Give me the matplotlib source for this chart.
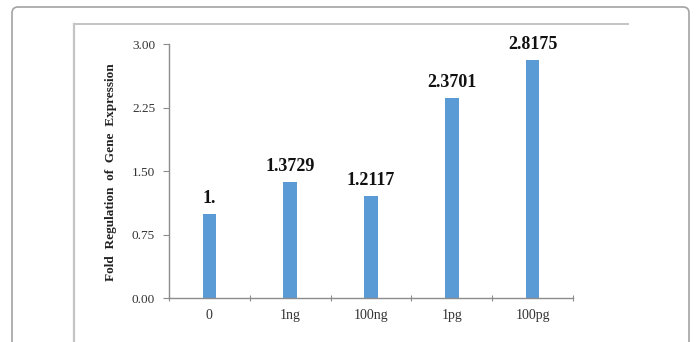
import matplotlib
matplotlib.use("Agg")
import matplotlib.pyplot as plt
from matplotlib.patches import FancyBboxPatch
from matplotlib.lines import Line2D
from matplotlib.transforms import IdentityTransform
import numpy as np

# Treatment doses and measured fold changes
categories = ["0", "1ng", "100ng", "1pg", "100pg"]
fold_values = [1.0, 1.3729, 1.2117, 2.3701, 2.8175]
value_labels = ["1.", "1.3729", "1.2117", "2.3701", "2.8175"]
y_ticks = [0.00, 0.75, 1.50, 2.25, 3.00]

plt.rcParams["font.family"] = ["Liberation Serif", "DejaVu Serif"]

W, H = 697, 342
fig = plt.figure(figsize=(W / 100, H / 100), dpi=100)
fig.patch.set_facecolor("white")

# Outer rounded panel frame (pixel coordinates)
outer = FancyBboxPatch((12, -20), 677, 342 - 7 + 20,
                       boxstyle="round,pad=0,rounding_size=6",
                       transform=IdentityTransform(),
                       facecolor="none", edgecolor="#a3a3a3", linewidth=1.2)
fig.add_artist(outer)

# Inner chart-area frame (top and left edges)
fig.add_artist(Line2D([74, 628], [318, 318], transform=IdentityTransform(),
                      color="#c4c4c4", linewidth=1.4))
fig.add_artist(Line2D([74, 74], [0, 318], transform=IdentityTransform(),
                      color="#c4c4c4", linewidth=1.6))

ax = fig.add_axes([169 / W, (H - 298.3) / H, (573 - 169) / W, (298.3 - 44.4) / H])

x = np.arange(len(categories))
bars = ax.bar(x, fold_values, width=0.17, color="#5B9BD5", zorder=2)

for xi, v, lab in zip(x, fold_values, value_labels):
    ax.annotate(lab, (xi, v), xytext=(0, 5), textcoords="offset points",
                ha="center", va="bottom", fontsize=13, fontweight="bold",
                color="#111111", annotation_clip=False)

ax.set_xlim(-0.5, len(categories) - 0.5)
ax.set_ylim(0, 3.0)

ax.set_yticks(y_ticks)
ax.set_yticklabels([f"{t:.2f}" for t in y_ticks], fontsize=9.5, color="#333333")
ax.set_xticks(x)
ax.set_xticklabels(categories, fontsize=10, color="#333333")
ax.set_xticks(np.arange(-0.5, len(categories), 1.0), minor=True)

ax.tick_params(axis="x", which="major", length=0, pad=7.5)
ax.tick_params(axis="x", which="minor", length=4, direction="inout",
               color="#8c8c8c", width=0.8)
ax.tick_params(axis="y", length=4, direction="out", color="#8c8c8c",
               width=0.8, pad=6)

for side in ["top", "right"]:
    ax.spines[side].set_visible(False)
for side in ["left", "bottom"]:
    ax.spines[side].set_color("#8c8c8c")
    ax.spines[side].set_linewidth(1.0)

ax.set_facecolor("none")

fig.text(111 / W, (H - 172) / H, "Fold  Regulation  of  Gene  Expression",
         rotation=90, ha="center", va="center", fontsize=9.5,
         fontweight="bold", color="#222222")

fig.savefig("out.png", dpi=100, facecolor="white")
